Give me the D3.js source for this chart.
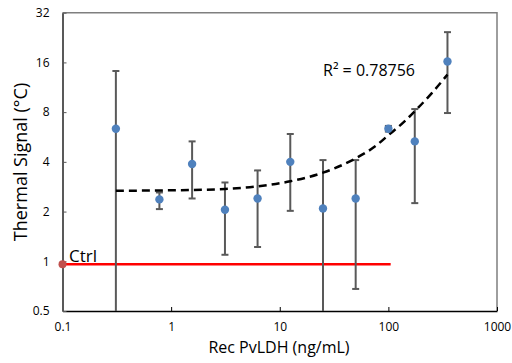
<!DOCTYPE html>
<html><head><meta charset="utf-8">
<script src="https://cdn.jsdelivr.net/npm/d3@7"></script>
<style>body{margin:0;background:#fff}svg{display:block}text{font-family:"Open Sans",sans-serif}</style>
</head><body>
<svg id="c" width="512" height="363"></svg>
<script>
// data
const conc   = [0.31, 0.78, 1.56, 3.13, 6.25, 12.5, 25, 50, 100, 175, 350];
const signal = [6.35, 2.37, 3.88, 2.05, 2.40, 4.0, 2.09, 2.40, 6.35, 5.32, 16.2];
const errHi  = [14.2, 2.61, 5.32, 3.0, 3.55, 5.9, 4.1, 4.1, 6.6, 8.35, 24.4];
const errLo  = [0.3, 2.07, 2.40, 1.095, 1.22, 2.02, 0.3, 0.68, 6.1, 2.25, 7.9];
const trendX = [0.31, 0.6, 1, 2, 3.13, 6.25, 12.5, 25, 50, 75, 100, 140, 175, 250, 350];
const trendY = [2.67, 2.68, 2.69, 2.71, 2.74, 2.84, 3.05, 3.44, 4.2, 4.95, 5.8, 7.0, 8.1, 10.4, 13.5];
const ctrlX = [0.1, 105];
const ctrlY = 0.958;
const xTicks = [0.1, 1, 10, 100, 1000];
const yTicks = [0.5, 1, 2, 4, 8, 16, 32];
const r2Label = "R² = 0.78756";

const svg = d3.select("#c");
const L = 62.5, R = 497, T = 12.7, B = 311;
const x = d3.scaleLog().domain([0.1, 1000]).range([L, R]);
const y = d3.scaleLog().base(2).domain([0.5, 32]).range([B, T]);
const yc = v => Math.min(B, Math.max(T, y(Math.max(v, 0.5))));

// frame top/right
svg.append("path").attr("d", `M${L},${T}H${R}V${B}`).attr("fill","none")
  .attr("stroke","#7f7f7f").attr("stroke-width",1.5);

// axes
const xa = svg.append("g").attr("transform",`translate(0,${B})`)
  .call(d3.axisBottom(x).tickValues(xTicks).tickFormat(d3.format("~g")).tickSizeInner(-4).tickSizeOuter(0).tickPadding(11));
xa.select(".domain").attr("stroke","#000").attr("stroke-width",1.5);
xa.selectAll(".tick line").attr("stroke","#000");
xa.selectAll("text").attr("font-size",12).attr("fill","#000").attr("font-family","Open Sans");
const ya = svg.append("g").attr("transform",`translate(${L},0)`)
  .call(d3.axisLeft(y).tickValues(yTicks).tickFormat(d3.format("~g")).tickSizeInner(-4).tickSizeOuter(0).tickPadding(13));
ya.select(".domain").attr("stroke","#595959").attr("stroke-width",2);
ya.selectAll(".tick line").attr("stroke","#595959");
ya.selectAll("text").attr("font-size",12).attr("fill","#000").attr("font-family","Open Sans");

// titles
svg.append("text").attr("x",279).attr("y",353).attr("text-anchor","middle")
  .attr("font-size",16).text("Rec PvLDH (ng/mL)");
svg.append("text").attr("transform","translate(27,162) rotate(-90)").attr("text-anchor","middle")
  .attr("font-size",18).text("Thermal Signal (°C)");

// control line
svg.append("line").attr("x1",x(ctrlX[0])).attr("x2",x(ctrlX[1])).attr("y1",y(ctrlY)).attr("y2",y(ctrlY))
  .attr("stroke","#ff0000").attr("stroke-width",2.5);
svg.append("circle").attr("cx",x(ctrlX[0])).attr("cy",y(ctrlY)).attr("r",4).attr("fill","#c0504d");
svg.append("text").attr("x",69).attr("y",262).attr("font-size",17).text("Ctrl");

// error bars
const eb = svg.append("g").attr("stroke","#595959").attr("stroke-width",2);
conc.forEach((c,i)=>{
  const cx = x(c);
  eb.append("line").attr("x1",cx).attr("x2",cx).attr("y1",yc(errHi[i])).attr("y2",yc(errLo[i]));
  eb.append("line").attr("x1",cx-3.5).attr("x2",cx+3.5).attr("y1",yc(errHi[i])).attr("y2",yc(errHi[i]));
  if (errLo[i] >= 0.5) eb.append("line").attr("x1",cx-3.5).attr("x2",cx+3.5).attr("y1",yc(errLo[i])).attr("y2",yc(errLo[i]));
});

// trendline
svg.append("path").datum(trendX.map((v,i)=>[v,trendY[i]]))
  .attr("d", d3.line().x(d=>x(d[0])).y(d=>y(d[1])).curve(d3.curveMonotoneX))
  .attr("fill","none").attr("stroke","#000").attr("stroke-width",2.5).attr("stroke-dasharray","8,5");

// points
svg.append("g").selectAll("circle").data(conc).join("circle")
  .attr("cx",d=>x(d)).attr("cy",(d,i)=>y(signal[i])).attr("r",4.2).attr("fill","#4f81bd");

svg.append("text").attr("x",323).attr("y",76).attr("font-size",16).text(r2Label);
</script>
</body></html>
